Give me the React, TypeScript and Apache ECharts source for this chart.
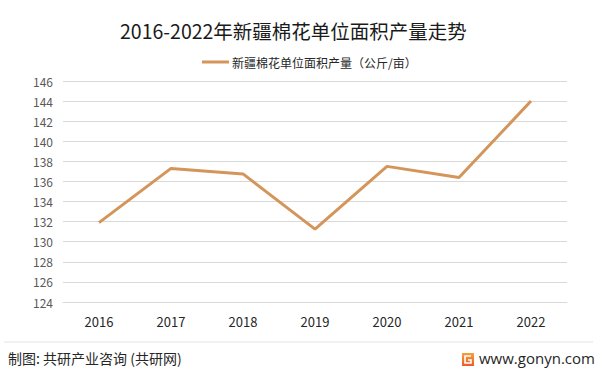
import React, { useEffect, useRef } from "react";
import * as echarts from "echarts";

const categories = ["2016", "2017", "2018", "2019", "2020", "2021", "2022"];
const yieldValues = [131.9, 137.3, 136.75, 131.25, 137.5, 136.4, 144.0];
const seriesName = "新疆棉花单位面积产量（公斤/亩）";
const titleText = "2016-2022年新疆棉花单位面积产量走势";
const sourceText = "制图: 共研产业咨询 (共研网)";
const siteText = "www.gonyn.com";

const FONT = "'Noto Sans CJK SC', 'Noto Sans', sans-serif";

export default function App() {
  const ref = useRef<HTMLDivElement>(null);
  useEffect(() => {
    if (!ref.current) return;
    const chart = echarts.init(ref.current, undefined, { renderer: "svg" });
    chart.setOption({
      animation: false,
      backgroundColor: "#ffffff",
      textStyle: { fontFamily: FONT },
      title: {
        text: titleText,
        left: 115,
        top: 16,
        textStyle: { fontSize: 19.5, fontWeight: "normal", color: "#1a1a1a", fontFamily: FONT },
      },
      legend: {
        top: 51,
        left: 197,
        itemWidth: 27,
        itemHeight: 3,
        icon: "rect",
        itemGap: 2,
        textStyle: { fontSize: 12, color: "#262626", fontFamily: FONT, padding: [0, 0, 0, -2] },
        data: [seriesName],
      },
      grid: { left: 63, right: 32, top: 81, bottom: 72, containLabel: false },
      xAxis: {
        type: "category",
        data: categories,
        boundaryGap: true,
        axisLine: { show: true, lineStyle: { color: "#D9D9D9", width: 1 } },
        axisTick: { show: false },
        axisLabel: { fontSize: 13, color: "#262626", margin: 13, fontFamily: FONT },
      },
      yAxis: {
        type: "value",
        min: 124,
        max: 146,
        interval: 2,
        axisLine: { show: false },
        axisTick: { show: false },
        axisLabel: { fontSize: 12, color: "#595959", margin: 10, fontFamily: FONT },
        splitLine: { lineStyle: { color: "#D9D9D9", width: 1 } },
      },
      series: [
        {
          name: seriesName,
          type: "line",
          data: yieldValues,
          symbol: "none",
          lineStyle: { color: "#D4955A", width: 3 },
          itemStyle: { color: "#D4955A" },
        },
      ],
      graphic: [
        {
          type: "line",
          shape: { x1: 4, y1: 342, x2: 593, y2: 342 },
          style: { stroke: "#E3E3E3", lineWidth: 1 },
        },
        {
          type: "text",
          left: 8,
          top: 351,
          style: { text: sourceText, fontSize: 14, fill: "#262626", fontFamily: FONT },
        },
        {
          type: "rect",
          shape: { x: 462, y: 353, width: 12, height: 13 },
          style: {
            fill: new echarts.graphic.LinearGradient(0, 0, 0, 1, [
              { offset: 0, color: "#F6A03C" },
              { offset: 1, color: "#EC5A2A" },
            ]),
          },
        },
        {
          type: "polyline",
          shape: { points: [[471, 356], [465, 356], [465, 363], [471, 363], [471, 360], [468, 360]] },
          style: { stroke: "#ffffff", lineWidth: 1.6, fill: "none" },
        },
        {
          type: "text",
          left: 479,
          top: 350,
          style: { text: siteText, fontSize: 15, fill: "#262626", fontFamily: "'Open Sans', 'Noto Sans', sans-serif" },
        },
      ],
    });
    return () => chart.dispose();
  }, []);
  return (
    <div
      ref={ref}
      style={{ position: "fixed", left: 0, top: 0, width: 599, height: 374 }}
    />
  );
}
